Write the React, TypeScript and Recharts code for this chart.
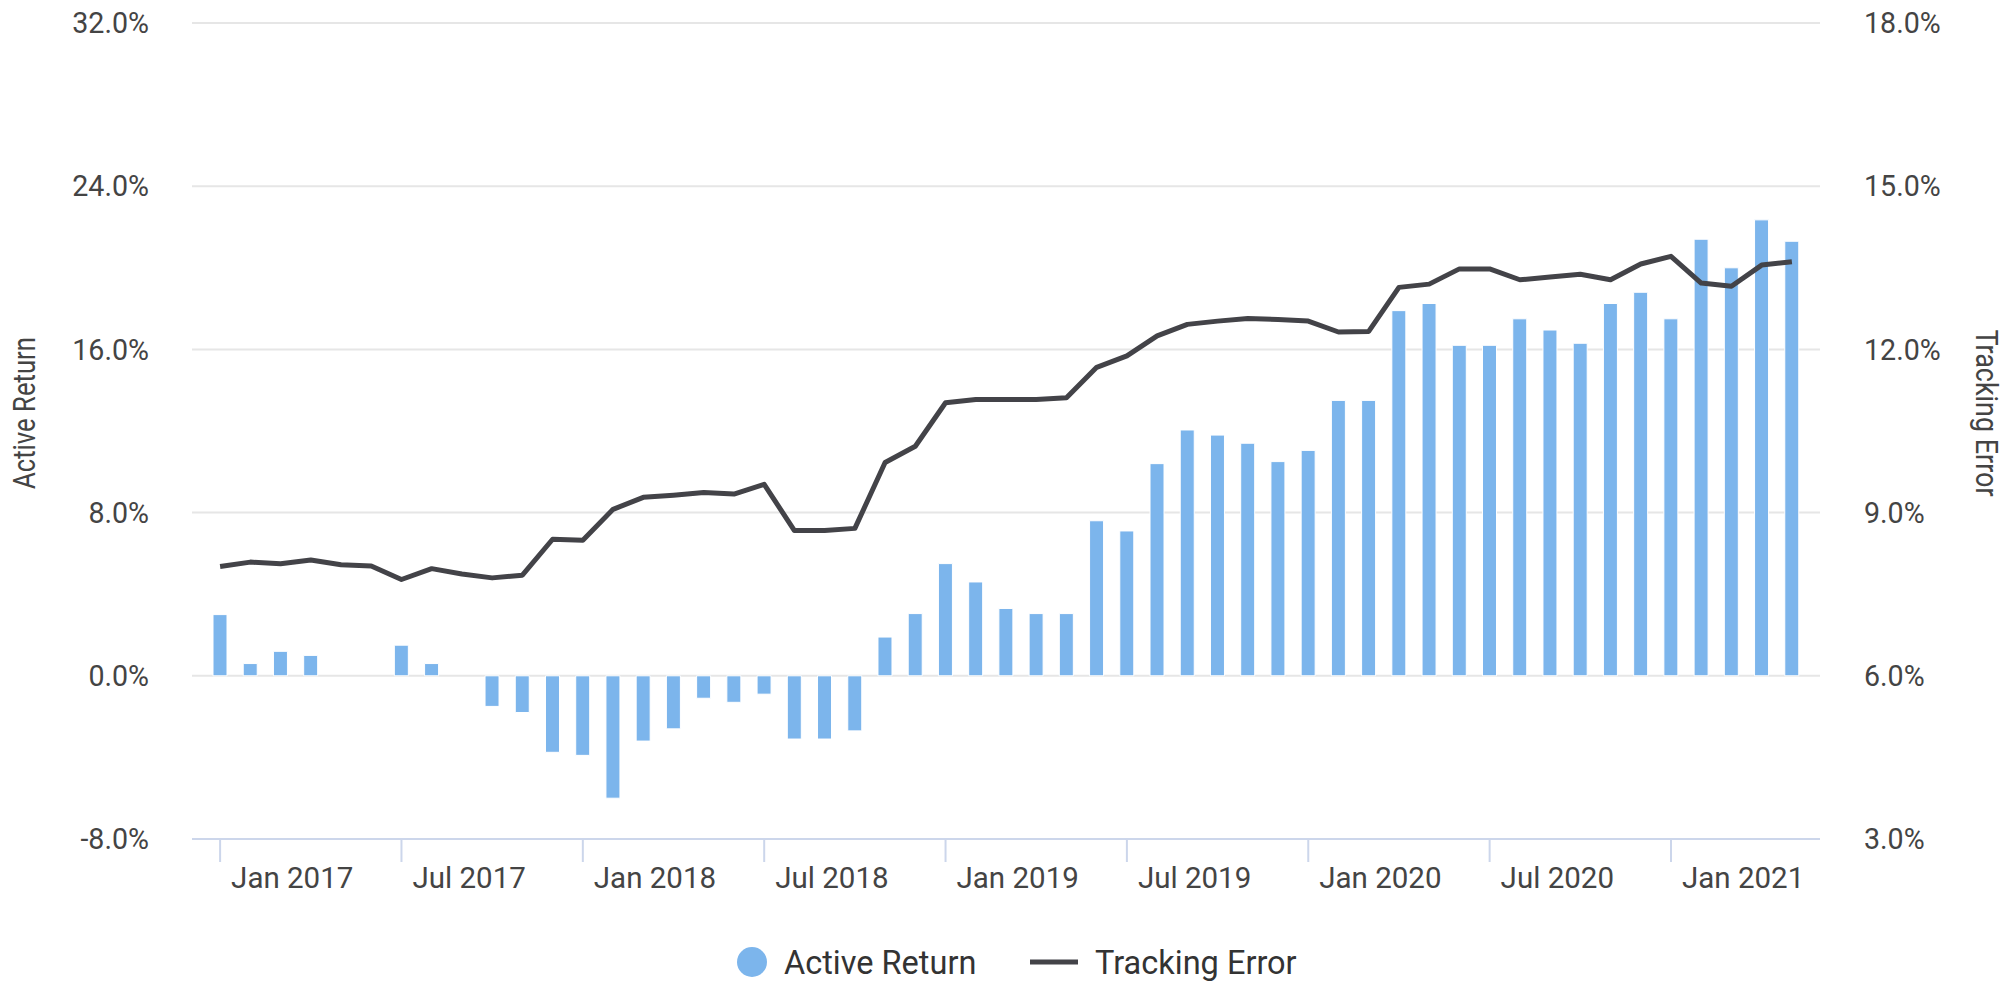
import { Bar, CartesianGrid, ComposedChart, Line, XAxis, YAxis } from 'recharts';

const months = [
  'Jan 2017', 'Feb 2017', 'Mar 2017', 'Apr 2017', 'May 2017', 'Jun 2017', 'Jul 2017', 'Aug 2017', 'Sep 2017', 'Oct 2017', 'Nov 2017', 'Dec 2017',
  'Jan 2018', 'Feb 2018', 'Mar 2018', 'Apr 2018', 'May 2018', 'Jun 2018', 'Jul 2018', 'Aug 2018', 'Sep 2018', 'Oct 2018', 'Nov 2018', 'Dec 2018',
  'Jan 2019', 'Feb 2019', 'Mar 2019', 'Apr 2019', 'May 2019', 'Jun 2019', 'Jul 2019', 'Aug 2019', 'Sep 2019', 'Oct 2019', 'Nov 2019', 'Dec 2019',
  'Jan 2020', 'Feb 2020', 'Mar 2020', 'Apr 2020', 'May 2020', 'Jun 2020', 'Jul 2020', 'Aug 2020', 'Sep 2020', 'Oct 2020', 'Nov 2020', 'Dec 2020',
  'Jan 2021', 'Feb 2021', 'Mar 2021', 'Apr 2021', 'May 2021',
];

// active return, % (left axis)
const activeReturn: (number | null)[] = [
  3.0, 0.6, 1.2, 1.0, 0, null, 1.5, 0.6, null, -1.5, -1.8, -3.75,
  -3.9, -6.0, -3.2, -2.6, -1.1, -1.3, -0.9, -3.1, -3.1, -2.7, 1.9, 3.05,
  5.5, 4.6, 3.3, 3.05, 3.05, 7.6, 7.1, 10.4, 12.05, 11.8, 11.4, 10.5,
  11.05, 13.5, 13.5, 17.9, 18.25, 16.2, 16.2, 17.5, 16.95, 16.3, 18.25, 18.8,
  17.5, 21.4, 20.0, 22.35, 21.3,
];

// tracking error, % (right axis)
const trackingError = [
  8.01, 8.09, 8.06, 8.13, 8.04, 8.02, 7.77, 7.97, 7.87, 7.8, 7.85, 8.51,
  8.49, 9.06, 9.28, 9.32, 9.37, 9.34, 9.52, 8.67, 8.67, 8.71, 9.92, 10.22,
  11.02, 11.08, 11.08, 11.08, 11.11, 11.67, 11.88, 12.25, 12.46, 12.52, 12.57, 12.55,
  12.52, 12.32, 12.33, 13.14, 13.2, 13.48, 13.48, 13.28, 13.33, 13.38, 13.28, 13.57,
  13.71, 13.22, 13.16, 13.55, 13.61,
];

const leftTicks = [-8, 0, 8, 16, 24, 32];
const rightTicks = [3, 6, 9, 12, 15, 18];

const data = months.map((m, i) => ({ month: m, active: activeReturn[i], te: trackingError[i] }));

const pct = (v: number) => `${v.toFixed(1)}%`;
const labelColor = '#444444';

function MonthTick({ x, y, payload }: any) {
  const lab: string = payload.value;
  if (!lab.startsWith('Jan') && !lab.startsWith('Jul')) return <g />;
  return (
    <g>
      <line x1={x} x2={x} y1={y} y2={y + 23} stroke="#ccd6eb" strokeWidth={2} />
      <text x={x + 11} y={y + 49} fontSize={29.5} fill={labelColor}>{lab}</text>
    </g>
  );
}

export default function App() {
  return (
    <div style={{ position: 'absolute', left: 0, top: 0, width: 2009, height: 982, background: '#fff', fontFamily: 'Roboto' }}>
      <ComposedChart width={2009} height={982} data={data} margin={{ top: 23, right: 0, bottom: 83, left: 0 }}>
        <CartesianGrid yAxisId="left" vertical={false} stroke="#e6e6e6" strokeWidth={2} />
        <XAxis
          dataKey="month"
          interval={0}
          height={60}
          padding={{ left: 13, right: 13 }}
          tickSize={0}
          tickMargin={0}
          tickLine={false}
          axisLine={{ stroke: '#ccd6eb', strokeWidth: 2 }}
          tick={<MonthTick />}
        />
        <YAxis
          yAxisId="left"
          width={192}
          domain={[-8, 32]}
          ticks={leftTicks}
          tickFormatter={pct}
          axisLine={false}
          tickLine={false}
          tickSize={0}
          tickMargin={43}
          tick={{ fontSize: 28.6, fill: labelColor }}
          label={{
            content: () => (
              <text x={24} y={413} transform="rotate(-90 24 413)" textAnchor="middle" dominantBaseline="central"
                fontSize={31} textLength={152} lengthAdjust="spacingAndGlyphs" fill={labelColor}>
                Active Return
              </text>
            ),
          }}
        />
        <YAxis
          yAxisId="right"
          orientation="right"
          width={189}
          domain={[3, 18]}
          ticks={rightTicks}
          tickFormatter={pct}
          axisLine={false}
          tickLine={false}
          tickSize={0}
          tickMargin={44}
          tick={{ fontSize: 28.6, fill: labelColor }}
          label={{
            content: () => (
              <text x={1986} y={413} transform="rotate(90 1986 413)" textAnchor="middle" dominantBaseline="central"
                fontSize={31} textLength={167} lengthAdjust="spacingAndGlyphs" fill={labelColor}>
                Tracking Error
              </text>
            ),
          }}
        />
        <Bar yAxisId="left" dataKey="active" fill="#7cb5ec" stroke="#ffffff" strokeWidth={1} barSize={14} isAnimationActive={false} />
        <Line
          yAxisId="right"
          dataKey="te"
          type="linear"
          stroke="#434348"
          strokeWidth={5}
          strokeLinejoin="round"
          dot={false}
          activeDot={false}
          isAnimationActive={false}
        />
      </ComposedChart>
      <svg width={2009} height={982} style={{ position: 'absolute', left: 0, top: 0, pointerEvents: 'none' }}>
        <circle cx={752} cy={962} r={15} fill="#7cb5ec" />
        <text x={784} y={974} fontSize={32.5} fill="#333333">Active Return</text>
        <line x1={1030} x2={1078} y1={962} y2={962} stroke="#434348" strokeWidth={5} />
        <text x={1095} y={974} fontSize={32.5} fill="#333333">Tracking Error</text>
      </svg>
    </div>
  );
}
